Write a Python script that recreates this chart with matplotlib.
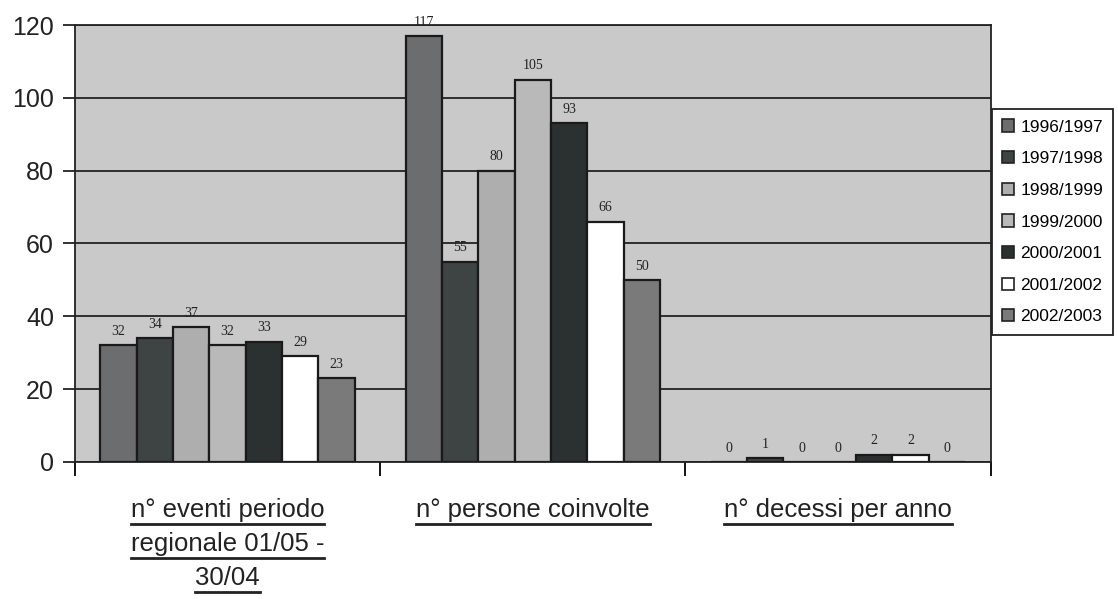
import matplotlib.pyplot as plt
import numpy as np
from matplotlib.patches import Patch
from matplotlib.lines import Line2D

plt.rcParams["font.family"] = ["Liberation Sans", "DejaVu Sans"]

categories = ["n° eventi periodo\nregionale 01/05 -\n30/04",
              "n° persone coinvolte",
              "n° decessi per anno"]
seasons = ["1996/1997", "1997/1998", "1998/1999", "1999/2000",
           "2000/2001", "2001/2002", "2002/2003"]
values = [
    [32, 117, 0],   # 1996/1997
    [34, 55, 1],    # 1997/1998
    [37, 80, 0],    # 1998/1999
    [32, 105, 0],   # 1999/2000
    [33, 93, 2],    # 2000/2001
    [29, 66, 2],    # 2001/2002
    [23, 50, 0],    # 2002/2003
]
colors = ["#6b6d6e", "#3e4344", "#aeaeae", "#b9b9b9", "#2b3030", "#ffffff", "#7a7a7a"]

fig = plt.figure(figsize=(11.18, 5.99), dpi=100)
ax = fig.add_axes([0.067, 0.229, 0.819, 0.729])
ax.set_facecolor("#c9c9c9")

n = len(seasons)
w = 0.119
x = np.arange(len(categories))
for j, (s, vals) in enumerate(zip(seasons, values)):
    pos = x + (j - (n - 1) / 2) * w
    ax.bar(pos, vals, width=w, color=colors[j], edgecolor="#1a1a1a",
           linewidth=1.6, zorder=3)
    for p, v in zip(pos, vals):
        ax.text(p, v + 2, str(v), ha="center", va="bottom", fontsize=10,
                family="Liberation Serif", color="#222222", zorder=4)

ax.set_xlim(-0.5, len(categories) - 0.5)
ax.set_ylim(0, 120)
ax.set_yticks(range(0, 121, 20))
ax.yaxis.grid(True, color="#222222", linewidth=1.3, zorder=1)
ax.set_axisbelow(True)
ax.tick_params(axis="y", labelsize=18, length=9, width=1.3, direction="out", pad=6,
               colors="#222222")
ax.set_xticks(np.arange(len(categories) + 1) - 0.5)
ax.set_xticklabels([])
ax.tick_params(axis="x", length=10, width=1.3, direction="out")
for sp in ax.spines.values():
    sp.set_color("#222222")
    sp.set_linewidth(1.3)

# category labels, underlined line by line
fig.canvas.draw()
renderer = fig.canvas.get_renderer()
for i, cat in enumerate(categories):
    for k, line in enumerate(cat.split("\n")):
        t = ax.text(i, -0.11 - k * 0.078, line, transform=ax.get_xaxis_transform(),
                    ha="center", va="center", fontsize=18.5, color="#222222")
        bb = t.get_window_extent(renderer).transformed(fig.transFigure.inverted())
        fig.add_artist(Line2D([bb.x0, bb.x1], [bb.y0 - 0.003, bb.y0 - 0.003],
                              transform=fig.transFigure, color="#222222", lw=2))

handles = [Patch(facecolor=c, edgecolor="#222222", linewidth=1.2) for c in colors]
leg = fig.legend(handles, seasons, loc="upper left", bbox_to_anchor=(0.887, 0.818),
                 fontsize=12.5, handlelength=0.7, handleheight=0.7, handletextpad=0.35,
                 labelspacing=0.95, borderpad=0.6, fancybox=False, framealpha=1,
                 edgecolor="#222222", borderaxespad=0)
leg.get_frame().set_linewidth(1.3)

fig.savefig("out.png", dpi=100)
